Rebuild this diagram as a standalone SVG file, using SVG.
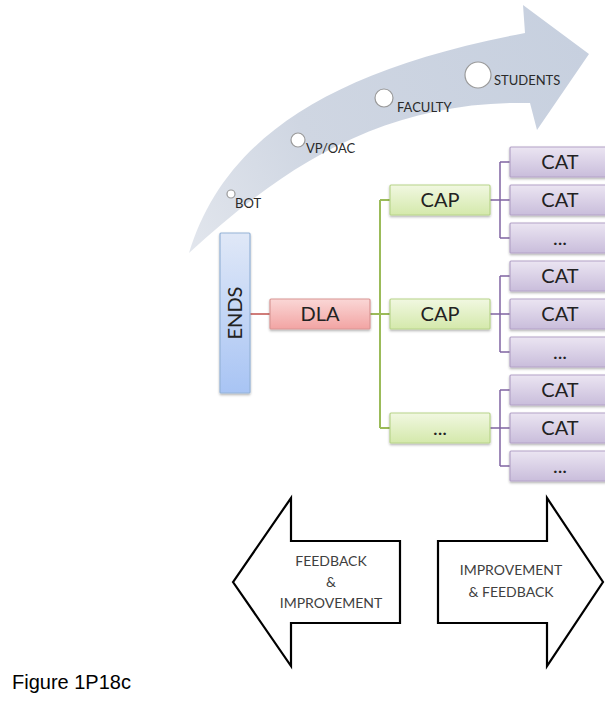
<svg xmlns="http://www.w3.org/2000/svg" width="605" height="704" viewBox="0 0 605 704">
  <defs>
    <linearGradient id="gArc" gradientUnits="userSpaceOnUse" x1="189" y1="253" x2="590" y2="53">
      <stop offset="0" stop-color="#e2e6ed"/>
      <stop offset="0.35" stop-color="#cfd6e2"/>
      <stop offset="1" stop-color="#c7d0df"/>
    </linearGradient>
    <linearGradient id="gBlue" x1="0" y1="0" x2="0" y2="1">
      <stop offset="0" stop-color="#e0e8f7"/>
      <stop offset="1" stop-color="#a8c4f4"/>
    </linearGradient>
    <linearGradient id="gRed" x1="0" y1="0" x2="0" y2="1">
      <stop offset="0" stop-color="#fad7d6"/>
      <stop offset="1" stop-color="#f2a4a3"/>
    </linearGradient>
    <linearGradient id="gGreen" x1="0" y1="0" x2="0" y2="1">
      <stop offset="0" stop-color="#f1f8e1"/>
      <stop offset="1" stop-color="#d4e9ab"/>
    </linearGradient>
    <linearGradient id="gPurple" x1="0" y1="0" x2="0" y2="1">
      <stop offset="0" stop-color="#ebe5f2"/>
      <stop offset="1" stop-color="#c9bddb"/>
    </linearGradient>
    <filter id="shadow" x="-10%" y="-10%" width="120%" height="140%">
      <feDropShadow dx="0" dy="1.5" stdDeviation="1" flood-color="#000" flood-opacity="0.3"/>
    </filter>
  </defs>
  <style>
    .lbl { font-family: Lato, "Liberation Sans", sans-serif; fill: #222; }
    .node { font-size: 20px; text-anchor: middle; }
    .stage { font-size: 13px; fill: #2a2a2a; }
    .big { font-size: 14px; fill: #404040; text-anchor: middle; }
    .dot { fill: #fff; stroke: #9a9a9a; stroke-width: 1.2; }
    .ends { fill: url(#gBlue); stroke: #95b3d7; stroke-width: 1.2; }
    .dla { fill: url(#gRed); stroke: #d99694; stroke-width: 1.2; }
    .cap { fill: url(#gGreen); stroke: #b8d48a; stroke-width: 1.2; }
    .cat { fill: url(#gPurple); stroke: #b3a2c7; stroke-width: 1.2; }
    .box { filter: url(#shadow); }
    .wide { fill: #fff; stroke: #000; stroke-width: 2.2; stroke-linejoin: miter; }
    .cr { stroke: #c0504d; stroke-width: 1.5; fill: none; }
    .cg { stroke: #9bbb59; stroke-width: 2; fill: none; }
    .cp { stroke: #8064a2; stroke-width: 1.5; fill: none; }
  </style>

  <!-- curved progression arrow with stakeholder stages -->
  <g id="progression">
    <path d="M189,253 C222,145 318,72 525,33 L523,5 L589,54 L537,130 L530,103 C380,100 280,170 189,253 Z" fill="url(#gArc)"/>
    <circle class="dot" cx="231" cy="194" r="4"/>
    <circle class="dot" cx="298" cy="140" r="7"/>
    <circle class="dot" cx="384" cy="98" r="9"/>
    <circle class="dot" cx="478" cy="75" r="13"/>
    <text class="lbl stage" x="235" y="208">BOT</text>
    <text class="lbl stage" x="306" y="153">VP/OAC</text>
    <text class="lbl stage" x="397" y="112">FACULTY</text>
    <text class="lbl stage" x="494" y="85">STUDENTS</text>
  </g>

  <!-- connectors -->
  <g id="connectors">
    <path class="cr" d="M250,314 H270"/>
    <path class="cg" d="M370,314 H390 M380,200 V428 M380,200 H390 M380,428 H390"/>
    <path class="cp" d="M490,200 H510 M500,162 V238 M500,162 H510 M500,238 H510"/>
    <path class="cp" d="M490,314 H510 M500,276 V352 M500,276 H510 M500,352 H510"/>
    <path class="cp" d="M490,428 H510 M500,390 V466 M500,390 H510 M500,466 H510"/>
  </g>

  <g id="ends">
    <rect class="ends box" x="220" y="233" width="30" height="160" rx="1"/>
    <text class="lbl node" transform="translate(242,313) rotate(-90)" x="0" y="0">ENDS</text>
  </g>

  <g id="dla">
    <rect class="dla box" x="270" y="299" width="100" height="30" rx="1"/>
    <text class="lbl node" x="320" y="321">DLA</text>
  </g>

  <g id="cap-1">
    <rect class="cap box" x="390" y="185" width="100" height="30" rx="1"/>
    <text class="lbl node" x="440" y="207">CAP</text>
  </g>
  <g id="cap-2">
    <rect class="cap box" x="390" y="299" width="100" height="30" rx="1"/>
    <text class="lbl node" x="440" y="321">CAP</text>
  </g>
  <g id="cap-3">
    <rect class="cap box" x="390" y="413" width="100" height="30" rx="1"/>
    <text class="lbl node" x="440" y="435">...</text>
  </g>

  <g id="cat-1-1"><rect class="cat box" x="510" y="147" width="100" height="30" rx="1"/><text class="lbl node" x="560" y="169">CAT</text></g>
  <g id="cat-1-2"><rect class="cat box" x="510" y="185" width="100" height="30" rx="1"/><text class="lbl node" x="560" y="207">CAT</text></g>
  <g id="cat-1-3"><rect class="cat box" x="510" y="223" width="100" height="30" rx="1"/><text class="lbl node" x="560" y="245">...</text></g>
  <g id="cat-2-1"><rect class="cat box" x="510" y="261" width="100" height="30" rx="1"/><text class="lbl node" x="560" y="283">CAT</text></g>
  <g id="cat-2-2"><rect class="cat box" x="510" y="299" width="100" height="30" rx="1"/><text class="lbl node" x="560" y="321">CAT</text></g>
  <g id="cat-2-3"><rect class="cat box" x="510" y="337" width="100" height="30" rx="1"/><text class="lbl node" x="560" y="359">...</text></g>
  <g id="cat-3-1"><rect class="cat box" x="510" y="375" width="100" height="30" rx="1"/><text class="lbl node" x="560" y="397">CAT</text></g>
  <g id="cat-3-2"><rect class="cat box" x="510" y="413" width="100" height="30" rx="1"/><text class="lbl node" x="560" y="435">CAT</text></g>
  <g id="cat-3-3"><rect class="cat box" x="510" y="451" width="100" height="30" rx="1"/><text class="lbl node" x="560" y="473">...</text></g>

  <!-- feedback / improvement block arrows -->
  <g id="feedback-arrow">
    <path class="wide" d="M233,582 L291,498 V541 H400 V623 H291 V666 Z"/>
    <text class="lbl big" x="331" y="566">FEEDBACK</text>
    <text class="lbl big" x="331" y="587">&amp;</text>
    <text class="lbl big" x="331" y="608">IMPROVEMENT</text>
  </g>
  <g id="improvement-arrow">
    <path class="wide" d="M438,541 H547 V498 L603,582 L547,666 V623 H438 Z"/>
    <text class="lbl big" x="511" y="575">IMPROVEMENT</text>
    <text class="lbl big" x="511" y="597">&amp; FEEDBACK</text>
  </g>

  <text x="12" y="689" font-family="'Liberation Sans', Arial, sans-serif" font-size="20" fill="#000">Figure 1P18c</text>
</svg>
